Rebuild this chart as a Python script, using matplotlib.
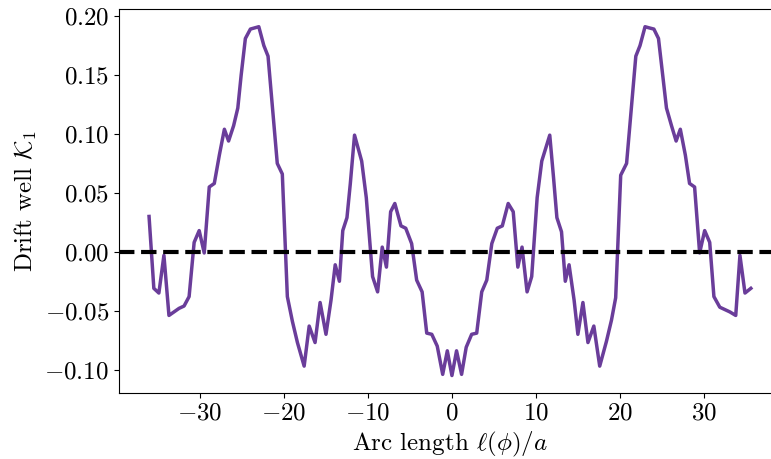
import numpy as np
import matplotlib
matplotlib.use('Agg')
import matplotlib.pyplot as plt

plt.rcParams['font.family'] = 'serif'
plt.rcParams['font.serif'] = ['cmr10']
plt.rcParams['mathtext.fontset'] = 'cm'
plt.rcParams['axes.formatter.use_mathtext'] = True
plt.rcParams['axes.unicode_minus'] = True

# arc length and drift well values
arc = [-36.07, -35.5, -34.9, -34.3, -33.7, -33.1, -32.5, -31.9, -31.3, -30.7,
       -30.1, -29.5, -28.9, -28.3, -27.7, -27.1, -26.6, -26.0, -25.5, -25.1,
       -24.6, -24.0, -23.5, -23.0, -22.4, -21.9, -20.8, -20.2, -19.6, -19.0,
       -18.4, -17.6, -17.0, -16.3, -15.7, -15.0, -14.4, -13.9, -13.4, -13.0,
       -12.5, -12.1, -11.6, -10.75, -10.2, -9.45, -8.85, -8.3, -7.8, -7.3,
       -6.8, -6.07, -5.5, -4.8, -4.2, -3.55, -3.0, -2.4, -1.75, -1.1,
       -0.55, 0.0, 0.55, 1.15, 1.7, 2.35, 2.95, 3.55, 4.15, 4.75,
       5.4, 6.0, 6.7, 7.3, 7.85, 8.35, 8.95, 9.5, 10.15, 10.7,
       11.65, 12.1, 12.5, 13.05, 13.5, 13.95, 14.55, 15.0, 15.6, 16.2,
       16.9, 17.6, 18.4, 19.0, 19.5, 20.1, 20.8, 21.9, 22.4, 23.0,
       23.5, 24.05, 24.6, 25.1, 25.55, 26.15, 26.7, 27.2, 27.8, 28.3,
       28.9, 29.5, 30.1, 30.7, 31.2, 31.9, 32.5, 33.1, 33.8, 34.3,
       34.9, 35.6]
K1 = [0.030, -0.031, -0.035, -0.003, -0.054, -0.051, -0.048, -0.046, -0.038, 0.008,
      0.018, -0.001, 0.055, 0.058, 0.082, 0.104, 0.094, 0.107, 0.122, 0.150,
      0.181, 0.189, 0.190, 0.191, 0.175, 0.166, 0.075, 0.066, -0.038, -0.059,
      -0.077, -0.097, -0.063, -0.077, -0.043, -0.070, -0.041, -0.011, -0.025, 0.018,
      0.029, 0.058, 0.099, 0.077, 0.046, -0.021, -0.034, 0.004, -0.013, 0.034,
      0.041, 0.022, 0.020, 0.007, -0.024, -0.034, -0.069, -0.070, -0.080, -0.104,
      -0.084, -0.105, -0.084, -0.104, -0.081, -0.070, -0.069, -0.034, -0.024, 0.007,
      0.020, 0.022, 0.041, 0.034, -0.013, 0.004, -0.034, -0.021, 0.046, 0.077,
      0.099, 0.063, 0.029, 0.017, -0.025, -0.011, -0.041, -0.070, -0.043, -0.077,
      -0.063, -0.097, -0.076, -0.058, -0.039, 0.065, 0.075, 0.166, 0.175, 0.191,
      0.190, 0.189, 0.181, 0.150, 0.122, 0.107, 0.094, 0.104, 0.082, 0.058,
      0.055, -0.001, 0.018, 0.008, -0.038, -0.047, -0.049, -0.051, -0.054, -0.003,
      -0.035, -0.031]

fig = plt.figure(figsize=(7.71, 4.59), dpi=100)
ax = fig.add_axes([0.1543, 0.1438, 0.8586, 0.836])

ax.plot(arc, K1, color='#6a3d9a', lw=2.5)
ax.axhline(0, color='k', ls='--', lw=3)

ax.set_xlabel(r'Arc length $\ell(\phi)/a$', fontsize=18)
ax.set_ylabel(r'Drift well $\mathcal{K}_1$', fontsize=18)
ax.tick_params(labelsize=18)

fig.savefig('out.png', dpi=100)
